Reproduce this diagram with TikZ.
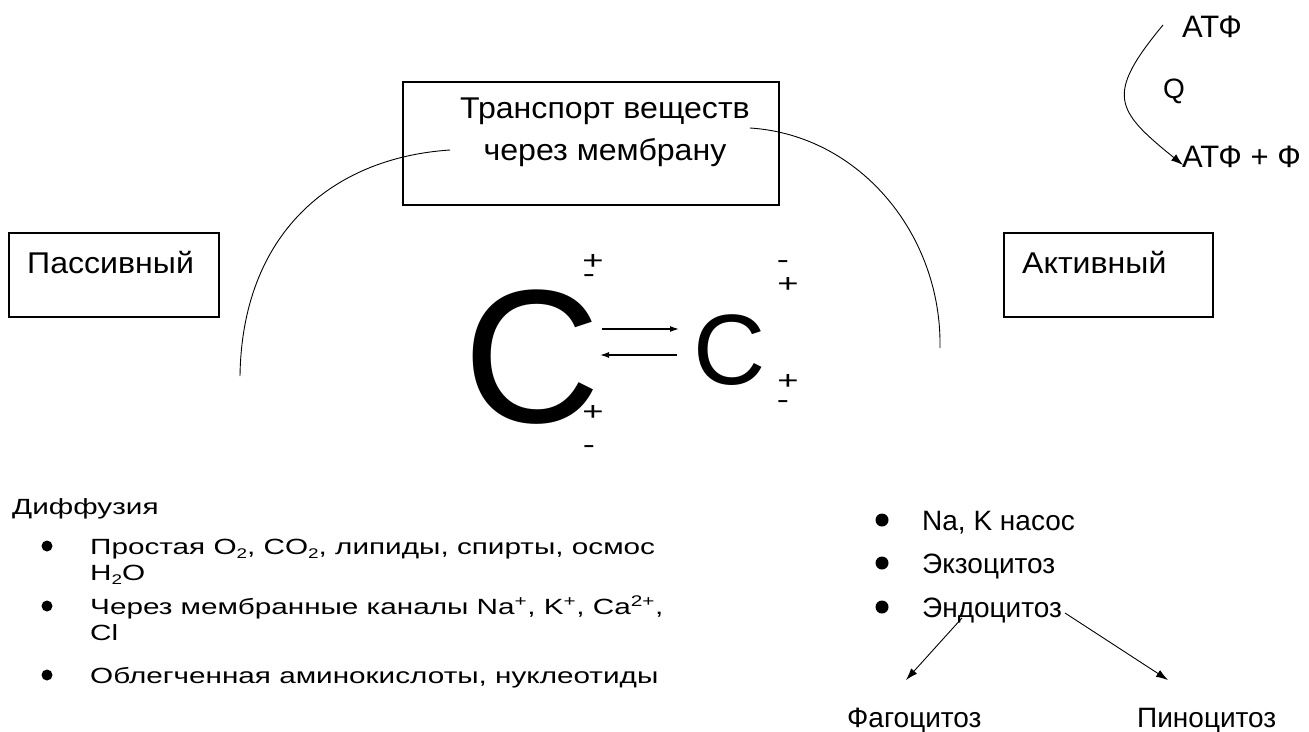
\documentclass[tikz,border=0pt]{standalone}
\usepackage{fontspec}
\setmainfont{Liberation Sans}
\newfontfamily\boxfont[FakeStretch=1.07]{Liberation Sans}
\newfontfamily\listfont[FakeStretch=1.35]{Liberation Sans}
\newfontfamily\signfont[FakeStretch=1.4]{Liberation Sans}
\usetikzlibrary{arrows.meta}
\tikzset{%
  % Specifications for style of nodes:
         box/.style =   { rectangle, draw = black, line width=1.3pt },
         label/.style = { inner sep=0pt, anchor=base west, font=\boxfont\fontsize{30}{42}\selectfont },
         item/.style =  { inner sep=0pt, anchor=base west, font=\listfont\fontsize{22}{26}\selectfont },
         ritem/.style = { inner sep=0pt, anchor=base west, font=\fontsize{28}{30}\selectfont },
         sign/.style =  { inner sep=0pt, font=\signfont\fontsize{26}{26}\selectfont },
         dot/.style =   { circle, fill=black, inner sep=0pt, minimum size=11pt },
}
\newcommand{\lowsub}[1]{\raisebox{-0.35ex}{\fontsize{14}{14}\selectfont #1}}
\begin{document}
\begin{tikzpicture}[x=1pt, y=-1pt, >={Latex[length=12pt,width=8pt]}]
    \useasboundingbox (0,0) rectangle (1309,731);
    % Draw boxes
    \draw[box] (403,82) rectangle (779,205);
    \draw[box] (9,233) rectangle (219,317);
    \draw[box] (1004,233) rectangle (1213,317);

    % Draw nodes
    \node (title)   [align=center, inner sep=0pt, font=\boxfont\fontsize{30}{42}\selectfont] at (605,132) {Транспорт веществ\\через мембрану};
    \node (passive) [label] at (27,273)   {Пассивный};
    \node (active)  [label] at (1022,273) {Активный};

    \node (bigC)    [inner sep=0pt, font=\fontsize{190}{190}\selectfont] at (532,357) {C};
    \node (smallC)  [inner sep=0pt, font=\fontsize{100}{100}\selectfont] at (730,350) {C};

    \node (s1) [sign] at (593,262) {+};
    \node (s2) [sign] at (589,279) {-};
    \node (s3) [sign] at (593,413) {+};
    \node (s4) [sign] at (589,450) {-};
    \node (s5) [sign] at (783,265) {-};
    \node (s6) [sign] at (788,285) {+};
    \node (s7) [sign] at (788,382) {+};
    \node (s8) [sign] at (783,405) {-};

    \node (atp)   [ritem, font=\fontsize{31}{33}\selectfont] at (1182,37)  {АТФ};
    \node (q)     [ritem] at (1163,98)  {Q};
    \node (atpph) [ritem, font=\fontsize{31}{33}\selectfont] at (1182,167) {АТФ + Ф};

    \node (diff)  [item] at (12,514) {Диффузия};
    \node (d1) [dot] at (47,546) {};
    \node (d2) [dot] at (47,606) {};
    \node (d3) [dot] at (47,675) {};
    \node (l1)  [item] at (90,554) {Простая O\lowsub{2}, CO\lowsub{2}, липиды, спирты, осмос};
    \node (l1b) [item] at (90,580) {H\lowsub{2}O};
    \node (l2)  [item] at (90,614) {Через мембранные каналы Na\textsuperscript{+}, K\textsuperscript{+}, Ca\textsuperscript{2+},};
    \node (l2b) [item] at (90,640) {Cl};
    \node (l3)  [item] at (90,683) {Облегченная аминокислоты, нуклеотиды};

    \node (d4) [dot, minimum size=13pt] at (882,520) {};
    \node (d5) [dot, minimum size=13pt] at (882,563) {};
    \node (d6) [dot, minimum size=13pt] at (882,607) {};
    \node (r1) [ritem] at (922,530) {Na, K насос};
    \node (r2) [ritem] at (922,573) {Экзоцитоз};
    \node (r3) [ritem] at (922,617) {Эндоцитоз};
    \node (phago) [ritem] at (847,727) {Фагоцитоз};
    \node (pino)  [ritem] at (1137,727) {Пиноцитоз};

    % Free ends
    \coordinate (la) at (240,376);
    \coordinate (lb) at (450,150);
    \coordinate (ra) at (750,128);
    \coordinate (rb) at (940,348);
    \coordinate (atpS) at (1163,25);
    \coordinate (atpE) at (1183,165);
    \coordinate (eq1) at (602,329);
    \coordinate (eq2) at (679,329);
    \coordinate (eq3) at (600,355);
    \coordinate (eq4) at (677,355);
    \coordinate (endoL) at (962,618);
    \coordinate (endoR) at (1065,613);
    \coordinate (phT) at (906,680);
    \coordinate (piT) at (1168,680);

    % Draw arrows
    \draw[line width=0.9pt] (la) .. controls (242,235) and (330,158) .. (lb);
    \draw[line width=0.9pt] (ra) .. controls (860,135) and (942,235) .. (rb);
    \draw[->,line width=0.9pt] (atpS) .. controls (1105,95) and (1115,110) .. (atpE);
    \draw[-{Latex[length=9pt,width=6pt]},line width=1.3pt] (eq1) -- (eq2);
    \draw[-{Latex[length=9pt,width=6pt]},line width=1.3pt] (eq4) -- (eq3);
    \draw[->,line width=0.9pt] (endoL) -- (phT);
    \draw[->,line width=0.9pt] (endoR) -- (piT);
\end{tikzpicture}
\end{document}
